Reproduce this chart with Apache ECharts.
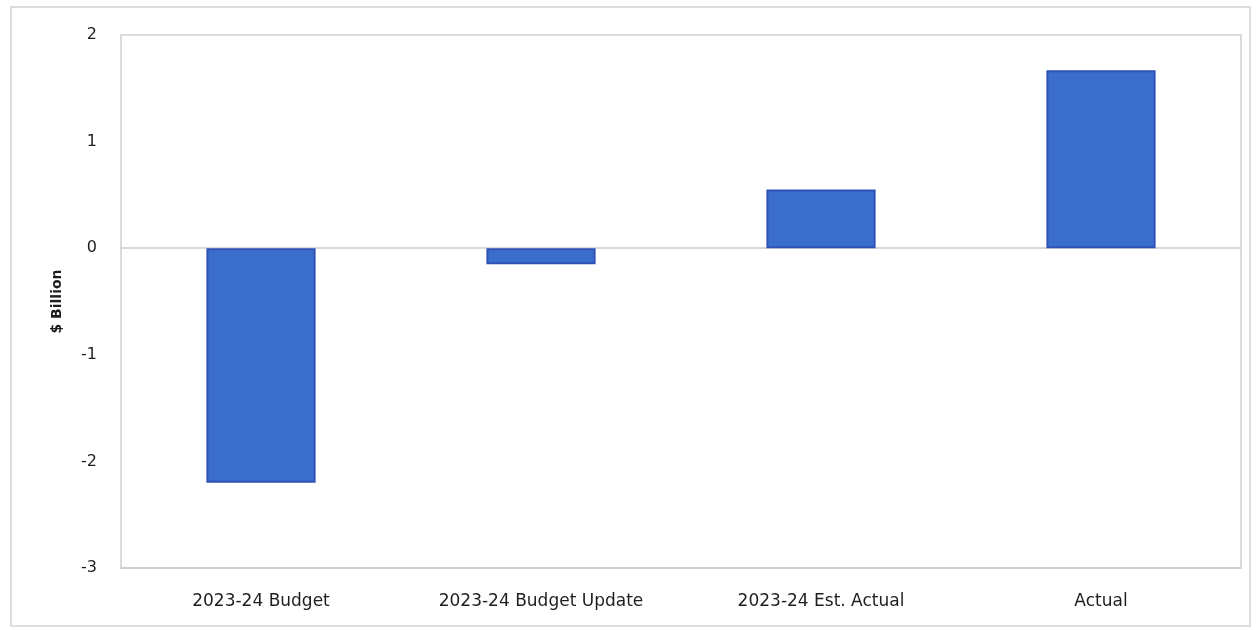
<!DOCTYPE html>
<html>
<head>
<meta charset="utf-8">
<script src="https://cdn.jsdelivr.net/npm/echarts@6/dist/echarts.min.js"></script>
<style>
  html, body { margin: 0; padding: 0; background: #ffffff; }
  #chart { width: 1256px; height: 630px; }
</style>
</head>
<body>
<div id="chart"></div>
<script>
// Operating balance, $ billion
const categories = ['2023-24 Budget', '2023-24 Budget Update', '2023-24 Est. Actual', 'Actual'];
const balance = [-2.2, -0.15, 0.55, 1.67];
const yTicks = { min: -3, max: 2, interval: 1 };

const chart = echarts.init(document.getElementById('chart'), null, { renderer: 'canvas' });

chart.setOption({
  backgroundColor: '#ffffff',
  animation: false,
  graphic: [{
    type: 'rect',
    shape: { x: 11, y: 7, width: 1239, height: 619 },
    style: { fill: 'none', stroke: '#d4d4d4', lineWidth: 1.5 },
    silent: true
  }],
  grid: {
    left: 121, right: 15, top: 35, bottom: 62,
    outerBoundsMode: 'none',
    containLabel: false,
    show: true,
    borderColor: '#cfcfcf',
    borderWidth: 1.5,
    backgroundColor: 'transparent'
  },
  xAxis: {
    type: 'category',
    data: categories,
    axisLine: { onZero: false, lineStyle: { color: '#cccccc', width: 1.5 } },
    axisTick: { show: false },
    axisLabel: {
      margin: 25,
      color: '#1e1e1e',
      fontFamily: 'DejaVu Sans',
      fontSize: 17
    }
  },
  yAxis: {
    type: 'value',
    min: yTicks.min,
    max: yTicks.max,
    interval: yTicks.interval,
    name: '$ Billion',
    nameLocation: 'middle',
    nameGap: 57,
    nameTextStyle: { color: '#1e1e1e', fontFamily: 'DejaVu Sans', fontSize: 14, fontWeight: 'bold' },
    axisLine: { show: false },
    axisTick: { show: false },
    splitLine: { show: false },
    axisLabel: {
      margin: 24,
      color: '#1e1e1e',
      fontFamily: 'DejaVu Sans',
      fontSize: 16
    }
  },
  series: [{
    type: 'bar',
    data: balance,
    barWidth: '39%',
    itemStyle: {
      color: '#3b6dcb',
      borderColor: '#2e52b6',
      borderWidth: 2
    },
    markLine: {
      silent: true,
      symbol: ['none', 'none'],
      label: { show: false },
      lineStyle: { color: '#cccccc', width: 1.5, type: 'solid' },
      data: [{ yAxis: 0 }],
      z: 1
    }
  }]
});
</script>
</body>
</html>
